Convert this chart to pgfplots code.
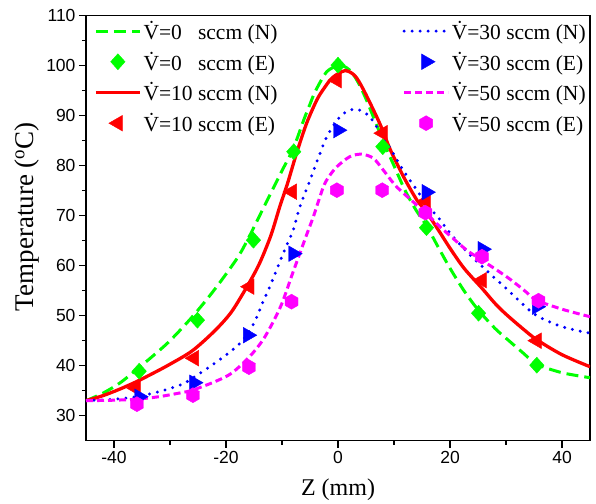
\documentclass[border=0pt]{standalone}
\usepackage{fontspec}
\setmainfont{Liberation Serif}
\newfontfamily\arial{Liberation Sans}
\usepackage{pgfplots}
\pgfplotsset{compat=1.18}
\definecolor{vgreen}{RGB}{0,255,0}
\definecolor{vred}{RGB}{255,0,0}
\definecolor{vblue}{RGB}{0,0,255}
\definecolor{vmag}{RGB}{255,0,255}
\pgfdeclareplotmark{hexagon*}{%
  \pgfpathmoveto{\pgfqpointpolar{90}{\pgfplotmarksize}}%
  \pgfpathlineto{\pgfqpointpolar{150}{\pgfplotmarksize}}%
  \pgfpathlineto{\pgfqpointpolar{210}{\pgfplotmarksize}}%
  \pgfpathlineto{\pgfqpointpolar{270}{\pgfplotmarksize}}%
  \pgfpathlineto{\pgfqpointpolar{330}{\pgfplotmarksize}}%
  \pgfpathlineto{\pgfqpointpolar{30}{\pgfplotmarksize}}%
  \pgfpathclose
  \pgfusepathqfillstroke}
\newcommand\Vd{\.{V}}
\begin{document}
\begin{tikzpicture}
\begin{axis}[
  name=ax,
  scale only axis,
  width=504pt, height=425pt,
  xmin=-45, xmax=45, ymin=25, ymax=110,
  xtick={-40,-20,0,20,40}, minor xtick={-30,-10,10,30},
  ytick={30,40,...,110}, minor ytick={35,45,...,105},
  tick pos=left, tick align=outside,
  major tick length=7pt, minor tick length=4pt,
  every tick/.style={black, line width=1.2pt},
  axis line style={line width=1.3pt},
  tick label style={font=\arial\fontsize{17.5}{20}\selectfont},
  /pgf/number format/assume math mode=true,
  xlabel={Z (mm)}, ylabel={Temperature (\textsuperscript{o}C)},
  xlabel style={font=\fontsize{24}{27}\selectfont, at={(axis description cs:0.5,-0.115)}, anchor=center},
  ylabel style={font=\fontsize{27}{30}\selectfont, at={(axis description cs:-0.117,0.527)}, anchor=center},
  legend columns=2,
  legend cell align=left,
  legend image code/.code={\draw[mark repeat=2,mark phase=2,#1] plot coordinates {(0pt,0pt)(22pt,0pt)(44pt,0pt)};},
  legend style={at={(axis description cs:0.01,0.997)}, anchor=north west, draw=none, fill=none,
    font=\fontsize{21.5}{24}\selectfont, row sep=7pt,
    /tikz/every even column/.append style={column sep=123pt}},
]
\addlegendimage{vgreen, line width=3pt, dash pattern=on 12pt off 6pt}
\addlegendentry{\Vd=0\phantom{0} sccm (N)}
\addlegendimage{vblue, line width=3.3pt, line cap=round, dash pattern=on 0pt off 8pt}
\addlegendentry{\Vd=30 sccm (N)}
\addlegendimage{only marks, mark=diamond*, mark size=8pt, vgreen, mark options={solid, fill=vgreen, draw=vgreen, xscale=1.2}}
\addlegendentry{\Vd=0\phantom{0} sccm (E)}
\addlegendimage{only marks, mark=triangle*, mark size=9pt, vblue, mark options={solid, fill=vblue, draw=vblue, rotate=-90}}
\addlegendentry{\Vd=30 sccm (E)}
\addlegendimage{vred, line width=3.3pt}
\addlegendentry{\Vd=10 sccm (N)}
\addlegendimage{vmag, line width=3pt, dash pattern=on 7pt off 4pt}
\addlegendentry{\Vd=50 sccm (N)}
\addlegendimage{only marks, mark=triangle*, mark size=9pt, vred, mark options={solid, fill=vred, draw=vred, rotate=90}}
\addlegendentry{\Vd=10 sccm (E)}
\addlegendimage{only marks, mark=hexagon*, mark size=7.5pt, vmag, mark options={solid, fill=vmag, draw=vmag}}
\addlegendentry{\Vd=50 sccm (E)}

% V=0 numerical
\addplot[forget plot, vgreen, line width=3pt, dash pattern=on 12pt off 6pt, smooth, mark=none] coordinates {
(-45,33.0) (-42,34.5) (-39,36.5) (-36,39.2) (-33,42.0) (-30,45.0) (-26,49.8) (-22,55.3)
(-18,61.5) (-16,65.5) (-14,70.0) (-12,74.5) (-10,79.0) (-8,83.4) (-6,89.5) (-5,92.3)
(-4,95.0) (-2,98.8) (0,100.0) (1,99.9) (2,99.2) (3,97.8) (4,95.8) (5.1,93.1) (6.3,89.8)
(7.5,86.5) (8,85.0) (10,80.0) (12,75.0) (14,71.0) (15.8,68.0) (18,63.5) (20,59.5)
(22.5,55.0) (25,51.2) (28,47.5) (30,45.5) (33,42.6) (35.5,40.3) (40,38.6) (45,37.6)};
% V=0 experimental
\addplot[forget plot, only marks, mark=diamond*, mark size=8pt, vgreen, mark options={solid, fill=vgreen, draw=vgreen, xscale=1.2}] coordinates {
(-35.5,38.9) (-25.1,49.1) (-15.1,65.1) (-7.9,82.8) (0,100.1) (8,83.8) (15.8,67.6) (25.1,50.5) (35.5,40.1)};
% V=10 numerical
\addplot[forget plot, vred, line width=3.3pt, smooth, mark=none] coordinates {
(-45,33.0) (-42,34.0) (-39,35.3) (-36,36.8) (-33,38.5) (-30,40.3) (-26,43.0) (-22,47.0)
(-19,50.8) (-16,56.3) (-14,60.5) (-12,66.0) (-10.4,71.8) (-9,76.5) (-7.4,82.5) (-5.6,88.5)
(-3.8,93.1) (-2.6,95.3) (-1,97.6) (1.25,99.0) (3,98.0) (4.5,95.3) (6.9,89.8) (8,87.0)
(9.3,83.3) (11.7,77.8) (14.1,73.1) (15.7,70.9) (18,67.0) (20,63.5) (22.5,59.5) (25.7,55.5)
(28,52.5) (30,50.3) (33,47.4) (35.5,45.2) (40,42.2) (45,39.8)};
% V=10 experimental
\addplot[forget plot, only marks, mark=triangle*, mark size=9pt, vred, mark options={solid, fill=vred, draw=vred, rotate=90}] coordinates {
(-36.1,35.5) (-25.7,41.5) (-15.8,55.8) (-8.2,74.8) (-0.2,97.1) (8,86.5) (15.7,72.9) (25.7,57.1) (35.5,45.0)};
% V=30 numerical
\addplot[forget plot, vblue, line width=3.3pt, line cap=round, dash pattern=on 0pt off 8pt, smooth, mark=none] coordinates {
(-45,33.0) (-40,33.3) (-36,33.8) (-32,34.8) (-28,36.2) (-26,37.5) (-22,40.5) (-19,43.0)
(-17,45.1) (-15,48.5) (-13.5,52.5) (-12,56.3) (-10.5,60.5) (-9,64.5) (-8,67.1) (-6.8,71.8)
(-5,77.1) (-3.2,82.5) (-2,85.8) (0,89.3) (1.5,90.8) (3.3,91.3) (5.4,90.1) (6.9,87.8)
(8.5,85.0) (10.2,81.8) (11.4,79.5) (12.9,77.0) (14.1,75.1) (15.8,72.3) (18,69.5) (20,66.5)
(23,62.8) (25.8,59.8) (28,57.5) (30,55.5) (33,52.3) (35.5,50.0) (40,47.8) (45,46.5)};
% V=30 experimental
\addplot[forget plot, only marks, mark=triangle*, mark size=9pt, vblue, mark options={solid, fill=vblue, draw=vblue, rotate=-90}] coordinates {
(-35.5,33.8) (-25.7,36.6) (-16.1,46.1) (-8,62.4) (0,87.1) (15.8,74.7) (25.8,63.3) (35.5,51.8)};
% V=50 numerical
\addplot[forget plot, vmag, line width=3pt, dash pattern=on 7pt off 4pt, smooth, mark=none] coordinates {
(-45,33.0) (-40,33.1) (-36,33.3) (-32,33.8) (-28,34.6) (-26,35.1) (-22,36.8) (-19,38.5)
(-15.8,41.8) (-13.5,45.0) (-11.7,48.5) (-10,52.5) (-8.1,58.5) (-6.8,62.5) (-5.5,66.5)
(-4.4,69.8) (-2.6,75.8) (-1.5,78.0) (-0.2,79.8) (2.1,81.8) (4.2,82.3) (6.3,81.5) (8.1,79.1)
(9.9,76.5) (11.1,75.1) (14.1,72.1) (16,70.2) (18.2,67.8) (20,66.0) (23,63.1) (25.7,61.1)
(30.1,57.8) (33,55.3) (35.5,53.1) (40,51.3) (45,49.8)};
% V=50 experimental
\addplot[forget plot, only marks, mark=hexagon*, mark size=7.5pt, vmag, mark options={solid, fill=vmag, draw=vmag}] coordinates {
(-35.9,32.3) (-25.9,34.1) (-15.9,39.7) (-8.3,52.8) (-0.2,75.1) (7.9,75.1) (15.6,70.6) (25.7,61.8) (35.8,53.0)};
\end{axis}
\path ([xshift=-86pt,yshift=-59pt]ax.south west) rectangle ([xshift=6pt,yshift=15.7pt]ax.north east);
\end{tikzpicture}
\end{document}
